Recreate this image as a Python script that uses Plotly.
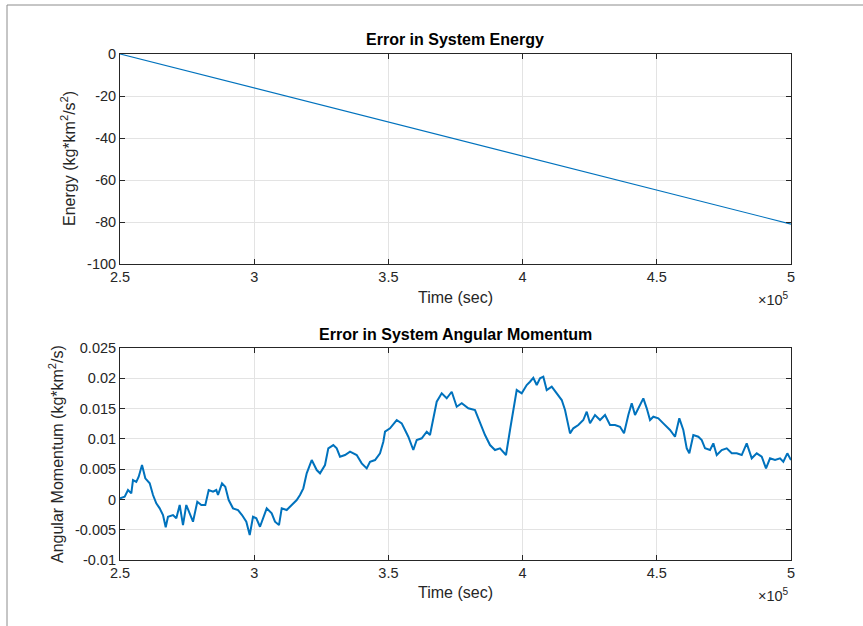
import plotly.graph_objects as go

# ---------------- data ----------------
energy_time = [2.5e5, 5.0e5]
energy_values = [0.0, -81.0]

am_time_e5 = [2.5, 2.5175, 2.5298, 2.5421, 2.5484, 2.5607, 2.5697, 2.5820, 2.5943, 2.6107,
              2.6230, 2.6352, 2.6479, 2.6602, 2.6703, 2.6788, 2.6975, 2.7098, 2.7224, 2.7347,
              2.7470, 2.7560, 2.7720, 2.7880, 2.8029, 2.8178, 2.8305, 2.8465, 2.8588, 2.8651,
              2.8800, 2.8923, 2.9050, 2.9210, 2.9397, 2.9546, 2.9706, 2.9833, 2.9956, 3.0079,
              3.0216, 3.0466, 3.0652, 3.0775, 3.0924, 3.1025, 3.1211, 3.1398, 3.1584, 3.1707,
              3.1830, 3.1956, 3.2143, 3.2329, 3.2452, 3.2638, 3.2761, 3.2948, 3.3074, 3.3197,
              3.3384, 3.3570, 3.3693, 3.3819, 3.4006, 3.4192, 3.4315, 3.4502, 3.4688, 3.4811,
              3.4874, 3.5060, 3.5310, 3.5496, 3.5619, 3.5742, 3.5928, 3.6055, 3.6241, 3.6428,
              3.6550, 3.6673, 3.6800, 3.6986, 3.7173, 3.7359, 3.7545, 3.7732, 3.7978, 3.8227,
              3.8413, 3.8600, 3.8786, 3.8972, 3.9158, 3.9382, 3.9531, 3.9680, 3.9781, 3.9967,
              4.0153, 4.0276, 4.0399, 4.0526, 4.0649, 4.0772, 4.0899, 4.1085, 4.1271, 4.1458,
              4.1581, 4.1703, 4.1767, 4.1890, 4.2076, 4.2262, 4.2389, 4.2512, 4.2698, 4.2885,
              4.3071, 4.3257, 4.3443, 4.3630, 4.3779, 4.3939, 4.4066, 4.4189, 4.4375, 4.4498,
              4.4625, 4.4748, 4.4871, 4.5057, 4.5243, 4.5306, 4.5492, 4.5678, 4.5839, 4.5988,
              4.6115, 4.6212, 4.6361, 4.6547, 4.6674, 4.6797, 4.6983, 4.7106, 4.7233, 4.7419,
              4.7605, 4.7792, 4.7978, 4.8164, 4.8350, 4.8537, 4.8723, 4.8909, 4.9069, 4.9218,
              4.9405, 4.9591, 4.9714, 4.9863, 5.0]
am_values = [0.0002, 0.00045, 0.00155, 0.001, 0.0032, 0.0029, 0.00375, 0.00568, 0.00348, 0.00266,
             0.00073, -0.00064, -0.00147, -0.00258, -0.0046, -0.00286, -0.00258, -0.00312, -0.00092, -0.00423,
             -0.00092, -0.00203, -0.00368, -0.00038, -0.00092, -0.00092, 0.00155, 0.00127, 0.00155, 0.00073,
             0.00266, 0.0021, -0.0001, -0.00147, -0.00175, -0.00258, -0.00368, -0.00588, -0.00286, -0.00312,
             -0.00451, -0.00147, -0.0023, -0.00368, -0.00423, -0.00147, -0.00175, -0.00092, -0.0001, 0.00073,
             0.00183, 0.00431, 0.0065, 0.00485, 0.00431, 0.00568, 0.00844, 0.00898, 0.00844, 0.00705,
             0.00733, 0.00788, 0.00761, 0.00733, 0.00596, 0.00513, 0.00622, 0.0065, 0.00761, 0.00953,
             0.01118, 0.01174, 0.01311, 0.01256, 0.01146, 0.01035, 0.00816, 0.00981, 0.01009, 0.01118,
             0.01063, 0.01311, 0.01613, 0.01752, 0.01669, 0.01778, 0.0153, 0.01587, 0.01504, 0.01476,
             0.01256, 0.01063, 0.00898, 0.00816, 0.00844, 0.00733, 0.01146, 0.0153, 0.01806, 0.01752,
             0.01889, 0.01943, 0.02009, 0.01889, 0.02, 0.02026, 0.01806, 0.01861, 0.01752, 0.01641,
             0.01476, 0.01256, 0.01091, 0.01174, 0.01228, 0.01311, 0.01448, 0.01256, 0.01393, 0.01311,
             0.01393, 0.01228, 0.01228, 0.012, 0.01091, 0.01393, 0.01587, 0.01393, 0.01559, 0.01669,
             0.01504, 0.01311, 0.01365, 0.01339, 0.01256, 0.01228, 0.01146, 0.01035, 0.01339, 0.01146,
             0.00844, 0.00761, 0.01063, 0.01035, 0.00981, 0.00844, 0.00816, 0.00926, 0.00733, 0.00816,
             0.00844, 0.00761, 0.00761, 0.00733, 0.00926, 0.00679, 0.00761, 0.00705, 0.00513, 0.00679,
             0.0065, 0.00679, 0.00622, 0.00761, 0.0065]
am_time = [t * 1e5 for t in am_time_e5]

x_tick_vals = [2.5e5, 3.0e5, 3.5e5, 4.0e5, 4.5e5, 5.0e5]
x_tick_text = ["2.5", "3", "3.5", "4", "4.5", "5"]
e_tick_vals = [0, -20, -40, -60, -80, -100]
e_tick_text = ["0", "-20", "-40", "-60", "-80", "-100"]
am_tick_vals = [0.025, 0.02, 0.015, 0.01, 0.005, 0, -0.005, -0.01]
am_tick_text = ["0.025", "0.02", "0.015", "0.01", "0.005", "0", "-0.005", "-0.01"]

# ---------------- figure ----------------
W, H = 863, 626
LINE = "#0072BD"
AX = "#262626"
GRID = "#E3E3E3"
FONT = "Liberation Sans, Arial, Helvetica, sans-serif"

def px_x(p):
    return p / W

def px_y(p):
    return 1 - p / H

fig = go.Figure()
fig.add_trace(go.Scatter(x=energy_time, y=energy_values, mode="lines",
                         line=dict(color=LINE, width=1.2), xaxis="x", yaxis="y",
                         showlegend=False))
fig.add_trace(go.Scatter(x=am_time, y=am_values, mode="lines",
                         line=dict(color=LINE, width=2), xaxis="x2", yaxis="y2",
                         showlegend=False))

axis_common = dict(showline=True, linecolor=AX, linewidth=1, mirror="ticks",
                   ticks="inside", ticklen=5, tickcolor=AX, showgrid=True,
                   gridcolor=GRID, gridwidth=1, zeroline=False, automargin=False,
                   tickfont=dict(family=FONT, size=14.5, color=AX), tickmode="array")

xdom = [px_x(120), px_x(791)]
fig.update_layout(
    width=W, height=H, margin=dict(l=0, r=0, t=0, b=0, pad=0),
    paper_bgcolor="white", plot_bgcolor="white",
    font=dict(family=FONT, color=AX),
    xaxis=dict(domain=xdom, anchor="y", range=[2.5e5, 5e5],
               tickvals=x_tick_vals, ticktext=x_tick_text, **axis_common),
    yaxis=dict(domain=[px_y(264), px_y(54)], anchor="x", range=[-100, 0],
               tickvals=e_tick_vals, ticktext=e_tick_text, **axis_common),
    xaxis2=dict(domain=xdom, anchor="y2", range=[2.5e5, 5e5],
                tickvals=x_tick_vals, ticktext=x_tick_text, **axis_common),
    yaxis2=dict(domain=[px_y(560), px_y(348)], anchor="x2", range=[-0.01, 0.025],
                tickvals=am_tick_vals, ticktext=am_tick_text, **axis_common),
)

ann = []
def add_text(text, x, y, size=14, bold=False, angle=0, color="#000000"):
    ann.append(dict(text=("<b>%s</b>" % text) if bold else text,
                    x=px_x(x), y=px_y(y), xref="paper", yref="paper",
                    showarrow=False, textangle=angle,
                    font=dict(family=FONT, size=size, color=color),
                    xanchor="center", yanchor="middle"))

add_text("Error in System Energy", 455, 40, size=16, bold=True)
add_text("Error in System Angular Momentum", 455, 334, size=16, bold=True)
add_text("Time (sec)", 455, 297, size=16, color=AX)
add_text("Time (sec)", 455, 592, size=16, color=AX)
add_text("Energy (kg*km<sup>2</sup>/s<sup>2</sup>)", 68, 159, size=16, angle=-90, color=AX)
add_text("Angular Momentum (kg*km<sup>2</sup>/s)", 56, 454, size=16, angle=-90, color=AX)
add_text("×10<sup>5</sup>", 773, 299, size=14.5, color=AX)
add_text("×10<sup>5</sup>", 773, 595, size=14.5, color=AX)
fig.update_layout(annotations=ann)

# figure frame lines (left and top edges)
fig.add_shape(type="line", xref="paper", yref="paper",
              x0=px_x(7), x1=px_x(7), y0=0, y1=px_y(5),
              line=dict(color="#8C8C8C", width=1))
fig.add_shape(type="line", xref="paper", yref="paper",
              x0=px_x(7), x1=1, y0=px_y(5), y1=px_y(5),
              line=dict(color="#8C8C8C", width=1))

fig.write_html("out.html",
               config={"displayModeBar": False},
               post_script="document.body.style.margin='0';"
                           "document.body.style.overflow='hidden';"
                           "document.documentElement.style.overflow='hidden';")
